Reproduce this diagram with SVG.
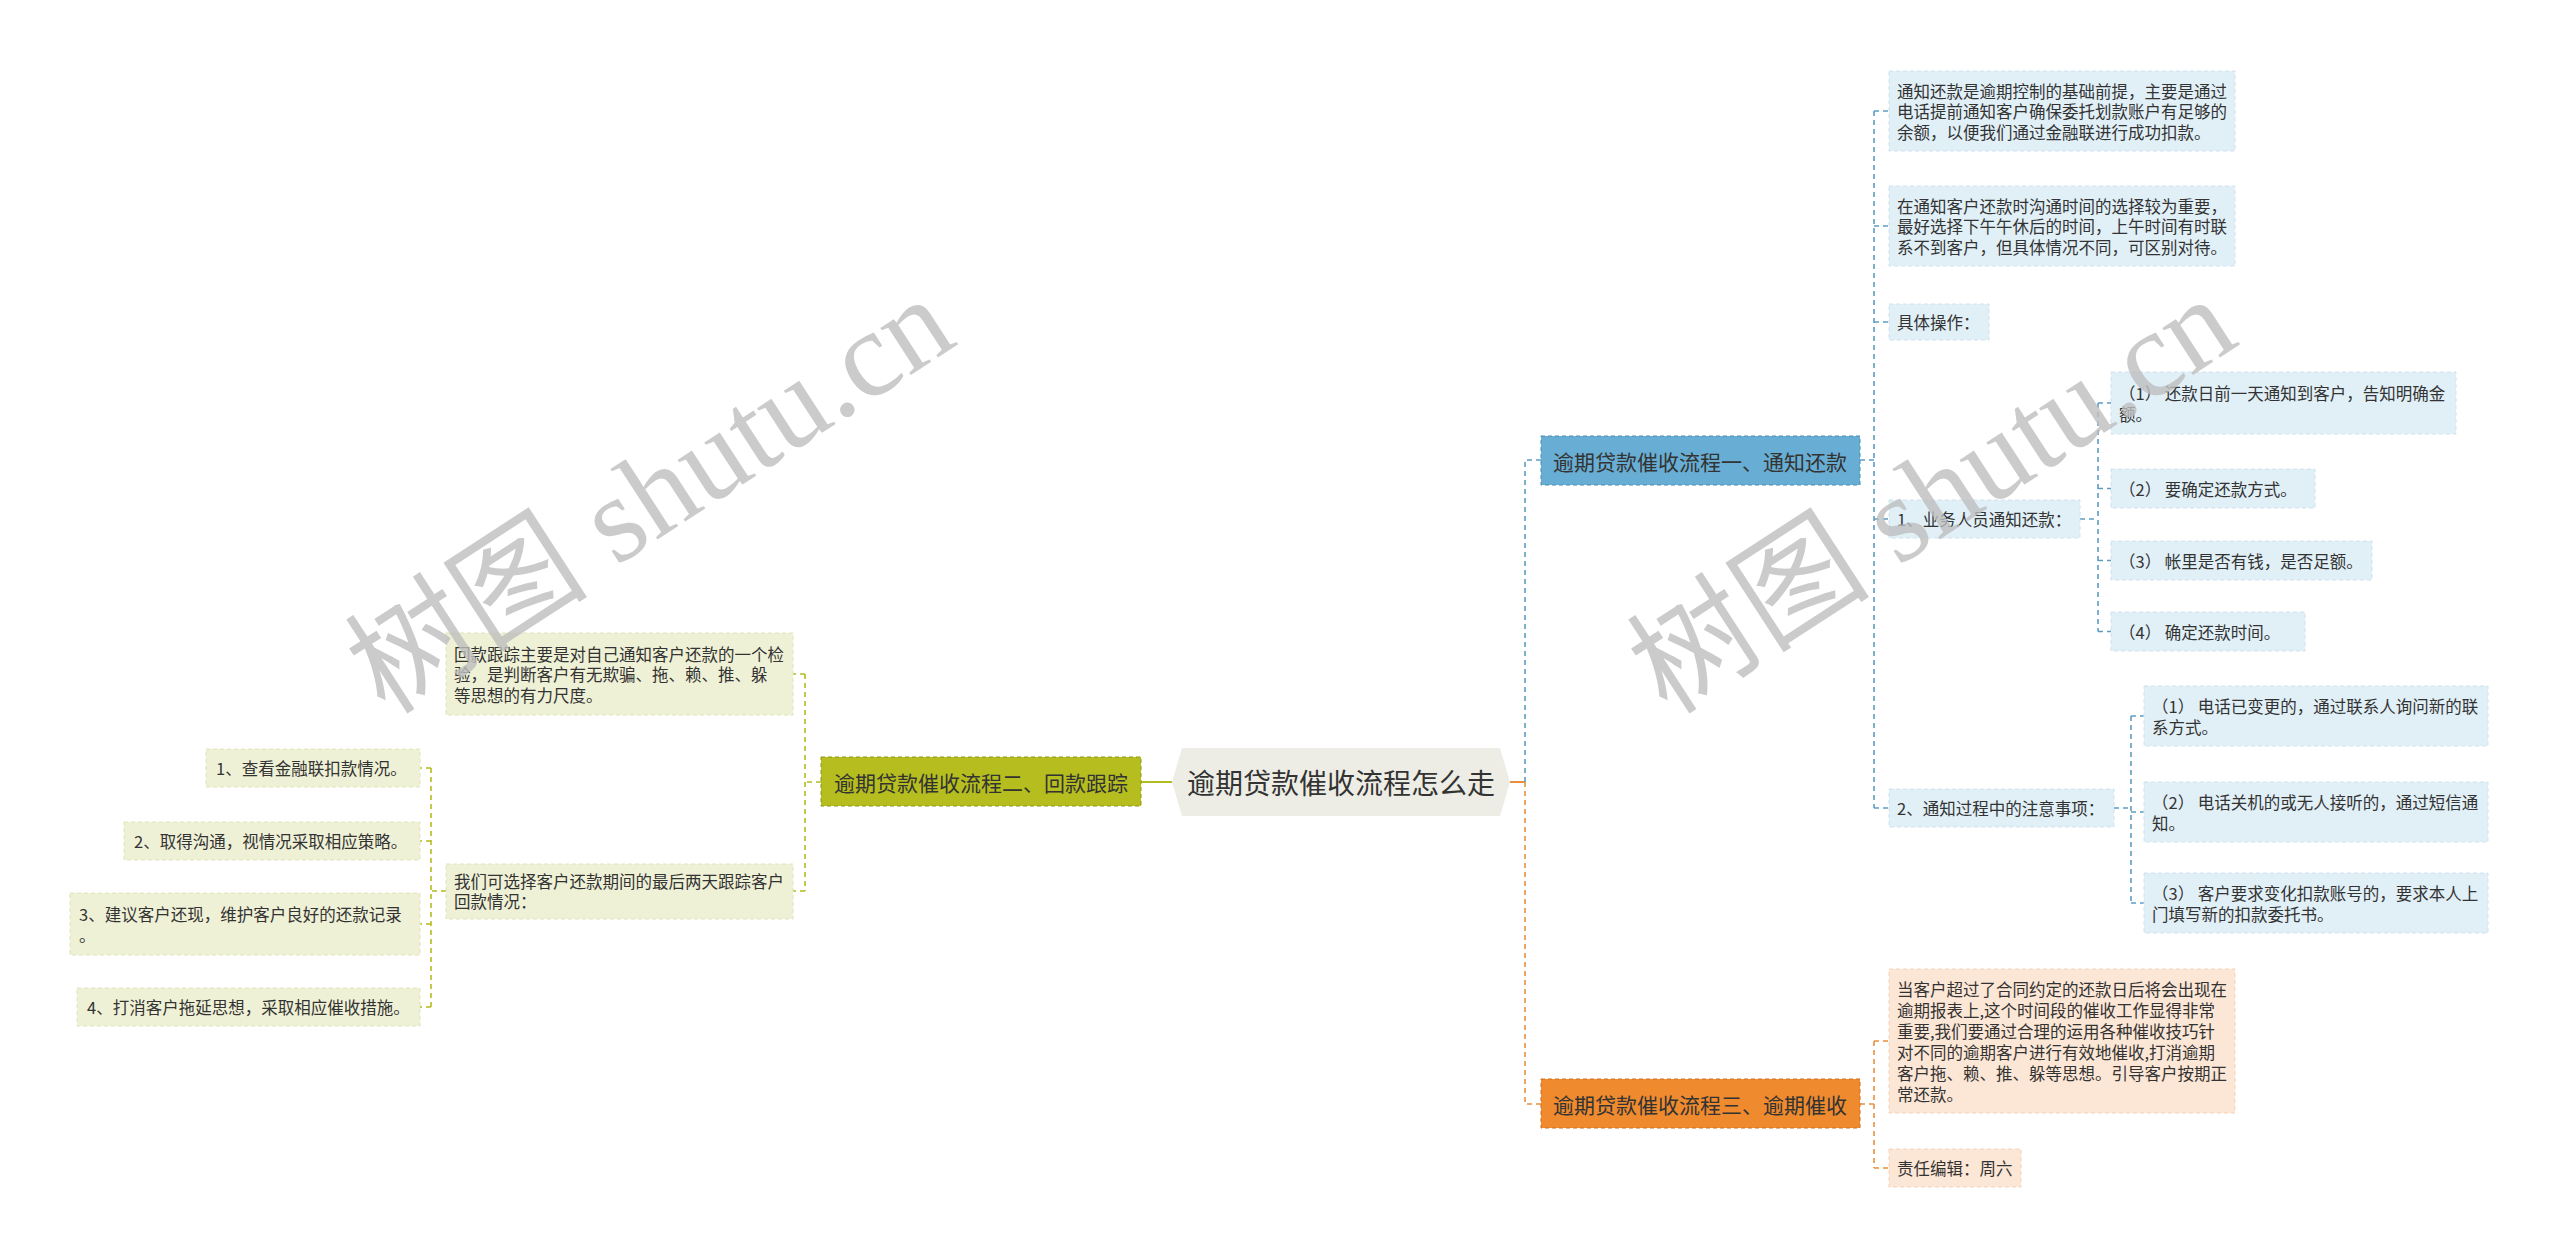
<svg xmlns="http://www.w3.org/2000/svg" width="2560" height="1257" viewBox="0 0 2560 1257">
<style>
.t{font-family:"Noto Sans CJK SC","Noto Sans",sans-serif;fill:#333;dominant-baseline:central}
.s{font-size:16.5px}
.m{font-size:21px}
.c{font-size:28px}
.bl{fill:#E1EFF7;stroke:#CFE2EE;stroke-dasharray:4 3;stroke-width:1}
.gl{fill:#EFF1D6;stroke:#E0E4BC;stroke-dasharray:4 3;stroke-width:1}
.ol{fill:#FCE6D5;stroke:#F6D2B6;stroke-dasharray:4 3;stroke-width:1}
.cb{fill:none;stroke:#5E9DC2;stroke-width:1.6;stroke-dasharray:5 4}
.cg{fill:none;stroke:#B3BC1E;stroke-width:1.6;stroke-dasharray:5 4}
.co{fill:none;stroke:#E8903F;stroke-width:1.6;stroke-dasharray:5 4}
.wm{font-family:"Liberation Serif","Noto Sans CJK SC",serif;font-size:122px;fill:#BEBEBE;fill-opacity:0.8}
</style>
<rect width="2560" height="1257" fill="#FFFFFF"/>
<g id="connectors">
<path d="M1141,782 H1172" fill="none" stroke="#B3BC1E" stroke-width="2"/>
<path d="M1510,782 H1525" fill="none" stroke="#E8903F" stroke-width="2"/>
<path class="cb" d="M1525,782 V460 H1541"/>
<path class="co" d="M1525,782 V1104 H1541"/>
<path class="cb" d="M1860,460 H1874"/>
<path class="cb" d="M1874,111 V808"/>
<path class="cb" d="M1874,111 H1889 M1874,226 H1889 M1874,322 H1889 M1874,519 H1889 M1874,808 H1889"/>
<path class="cb" d="M2080,519 H2098 M2098,403 V631.5 M2098,403 H2111 M2098,488.5 H2111 M2098,560.5 H2111 M2098,631.5 H2111"/>
<path class="cb" d="M2114,808 H2131 M2131,716 V903 M2131,716 H2144 M2131,812 H2144 M2131,903 H2144"/>
<path class="co" d="M1860,1104 H1874 M1874,1041 V1168 M1874,1041 H1889 M1874,1168 H1889"/>
<path class="cg" d="M821,782 H805 M805,674 V891 M805,674 H793 M805,891 H793"/>
<path class="cg" d="M446,891 H431 M431,768 V1007 M431,768 H420 M431,841 H420 M431,924 H420 M431,1007 H420"/>
</g>
<g id="root">
<polygon points="1172,782 1182,748 1500,748 1510,782 1500,816 1182,816" fill="#EDEDE5"/>
<text class="t c" x="1341" y="782" text-anchor="middle">逾期贷款催收流程怎么走</text>
</g>
<g id="branch1">
<rect x="1541" y="436" width="319" height="49" fill="#68AED4" stroke="#4B8DB4" stroke-dasharray="4 3"/>
<text class="t m" x="1700" y="460.5" text-anchor="middle">逾期贷款催收流程一、通知还款</text>
</g>
<g id="b1a">
<rect class="bl" x="1889" y="71" width="346" height="80"/>
<text class="t s" x="1897" y="90.5">通知还款是逾期控制的基础前提，主要是通过</text>
<text class="t s" x="1897" y="111">电话提前通知客户确保委托划款账户有足够的</text>
<text class="t s" x="1897" y="131.5">余额，以便我们通过金融联进行成功扣款。</text>
</g>
<g id="b1b">
<rect class="bl" x="1889" y="186" width="346" height="80"/>
<text class="t s" x="1897" y="205.5">在通知客户还款时沟通时间的选择较为重要，</text>
<text class="t s" x="1897" y="226">最好选择下午午休后的时间，上午时间有时联</text>
<text class="t s" x="1897" y="246.5">系不到客户，但具体情况不同，可区别对待。</text>
</g>
<g id="b1c">
<rect class="bl" x="1889" y="304" width="100" height="36"/>
<text class="t s" x="1897" y="322">具体操作：</text>
</g>
<g id="b1d">
<rect class="bl" x="1889" y="500" width="191" height="38"/>
<text class="t s" x="1897" y="519">1、业务人员通知还款：</text>
</g>
<g id="b1d1">
<rect class="bl" x="2111" y="372" width="345" height="62"/>
<text class="t s" x="2119" y="392.5">（1） 还款日前一天通知到客户，告知明确金</text>
<text class="t s" x="2119" y="413.5">额。</text>
</g>
<g id="b1d2">
<rect class="bl" x="2111" y="469" width="204" height="39"/>
<text class="t s" x="2119" y="488.5">（2） 要确定还款方式。</text>
</g>
<g id="b1d3">
<rect class="bl" x="2111" y="541" width="261" height="39"/>
<text class="t s" x="2119" y="560.5">（3） 帐里是否有钱，是否足额。</text>
</g>
<g id="b1d4">
<rect class="bl" x="2111" y="612" width="194" height="39"/>
<text class="t s" x="2119" y="631.5">（4） 确定还款时间。</text>
</g>
<g id="b1e">
<rect class="bl" x="1889" y="789" width="225" height="38"/>
<text class="t s" x="1897" y="808">2、通知过程中的注意事项：</text>
</g>
<g id="b1e1">
<rect class="bl" x="2144" y="686" width="344" height="60"/>
<text class="t s" x="2152" y="705.5">（1） 电话已变更的，通过联系人询问新的联</text>
<text class="t s" x="2152" y="726.5">系方式。</text>
</g>
<g id="b1e2">
<rect class="bl" x="2144" y="782" width="344" height="60"/>
<text class="t s" x="2152" y="801.5">（2） 电话关机的或无人接听的，通过短信通</text>
<text class="t s" x="2152" y="822.5">知。</text>
</g>
<g id="b1e3">
<rect class="bl" x="2144" y="873" width="344" height="60"/>
<text class="t s" x="2152" y="892.5">（3） 客户要求变化扣款账号的，要求本人上</text>
<text class="t s" x="2152" y="913.5">门填写新的扣款委托书。</text>
</g>
<g id="branch3">
<rect x="1541" y="1079" width="319" height="49" fill="#F08A2E" stroke="#D06F1A" stroke-dasharray="4 3"/>
<text class="t m" x="1700" y="1104" text-anchor="middle">逾期贷款催收流程三、逾期催收</text>
</g>
<g id="b3a">
<rect class="ol" x="1889" y="969" width="346" height="144"/>
<text class="t s" x="1897" y="988.5">当客户超过了合同约定的还款日后将会出现在</text>
<text class="t s" x="1897" y="1009.5">逾期报表上,这个时间段的催收工作显得非常</text>
<text class="t s" x="1897" y="1030.5">重要,我们要通过合理的运用各种催收技巧针</text>
<text class="t s" x="1897" y="1051.5">对不同的逾期客户进行有效地催收,打消逾期</text>
<text class="t s" x="1897" y="1072.5">客户拖、赖、推、躲等思想。引导客户按期正</text>
<text class="t s" x="1897" y="1093.5">常还款。</text>
</g>
<g id="b3b">
<rect class="ol" x="1889" y="1149" width="132" height="38"/>
<text class="t s" x="1897" y="1168">责任编辑：周六</text>
</g>
<g id="branch2">
<rect x="821" y="757" width="320" height="49" fill="#B5BE1E" stroke="#8E9712" stroke-dasharray="4 3"/>
<text class="t m" x="981" y="782" text-anchor="middle">逾期贷款催收流程二、回款跟踪</text>
</g>
<g id="b2a">
<rect class="gl" x="446" y="633" width="347" height="82"/>
<text class="t s" x="454" y="653.5">回款跟踪主要是对自己通知客户还款的一个检</text>
<text class="t s" x="454" y="674">验，是判断客户有无欺骗、拖、赖、推、躲</text>
<text class="t s" x="454" y="694.5">等思想的有力尺度。</text>
</g>
<g id="b2b">
<rect class="gl" x="446" y="864" width="347" height="55"/>
<text class="t s" x="454" y="880.5">我们可选择客户还款期间的最后两天跟踪客户</text>
<text class="t s" x="454" y="901">回款情况：</text>
</g>
<g id="b2b1">
<rect class="gl" x="206" y="749" width="214" height="38"/>
<text class="t s" x="216" y="768">1、查看金融联扣款情况。</text>
</g>
<g id="b2b2">
<rect class="gl" x="124" y="822" width="296" height="38"/>
<text class="t s" x="134" y="841">2、取得沟通，视情况采取相应策略。</text>
</g>
<g id="b2b3">
<rect class="gl" x="70" y="893" width="350" height="62"/>
<text class="t s" x="79" y="913.5">3、建议客户还现，维护客户良好的还款记录</text>
<text class="t s" x="79" y="934.5">。</text>
</g>
<g id="b2b4">
<rect class="gl" x="77" y="988" width="343" height="38"/>
<text class="t s" x="87" y="1007">4、打消客户拖延思想，采取相应催收措施。</text>
</g>
<g id="watermark">
<text class="wm" x="0" y="0" text-anchor="middle" dominant-baseline="central" transform="translate(650,495) rotate(-33)">树图 shutu.cn</text>
<text class="wm" x="0" y="0" text-anchor="middle" dominant-baseline="central" transform="translate(1932,495) rotate(-33)">树图 shutu.cn</text>
</g>
</svg>
